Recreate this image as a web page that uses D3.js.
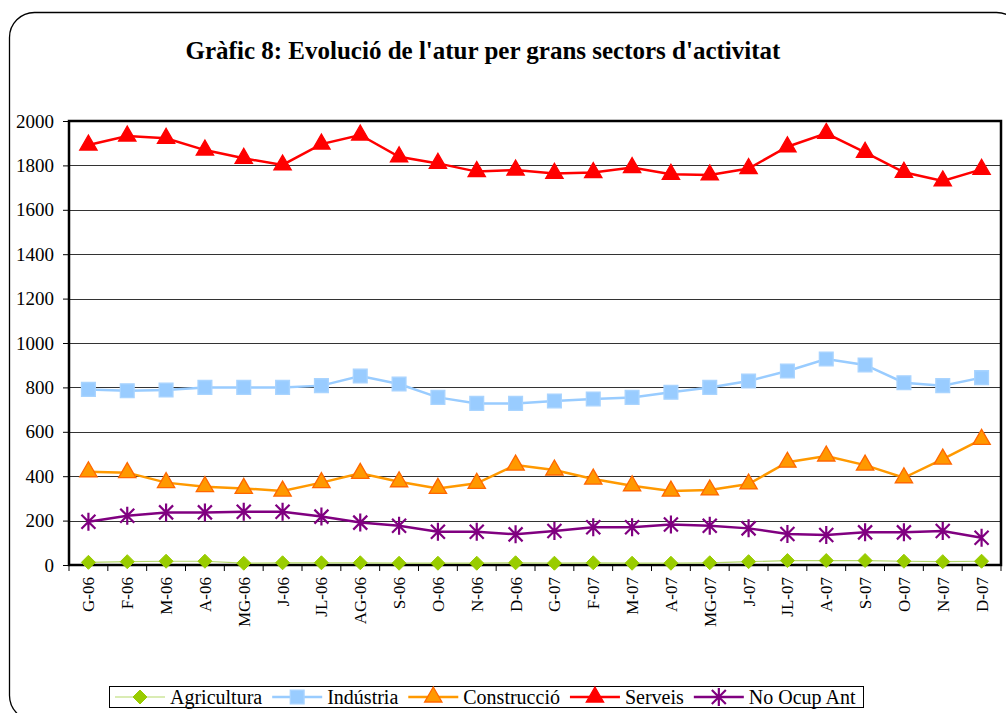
<!DOCTYPE html>
<html>
<head>
<meta charset="utf-8">
<script src="https://cdn.jsdelivr.net/npm/d3@7"></script>
<style>
  body { margin: 0; background: #fff; }
  svg text { font-family: "Liberation Serif", "Times New Roman", serif !important; }
</style>
</head>
<body>
<div id="chart-area"></div>
<script>
// data
const months = ["G-06","F-06","M-06","A-06","MG-06","J-06","JL-06","AG-06","S-06","O-06","N-06","D-06",
                "G-07","F-07","M-07","A-07","MG-07","J-07","JL-07","A-07","S-07","O-07","N-07","D-07"]
const agricultura = [12,15,17,17,8,10,10,10,8,8,8,10,8,10,8,8,10,15,20,20,20,17,15,17]
const industria = [791,785,788,800,800,800,808,851,815,755,728,728,739,748,755,778,800,829,874,928,901,821,808,844]
const construccio = [420,416,371,353,345,333,371,413,375,345,368,450,428,387,357,333,338,365,463,491,450,393,477,566]
const serveis = [1892,1932,1922,1869,1832,1802,1896,1937,1839,1809,1772,1779,1764,1768,1790,1760,1757,1786,1884,1944,1859,1769,1730,1782]
const noOcupAnt = [195,222,237,237,240,240,218,191,177,150,150,138,153,170,170,182,177,165,140,135,147,147,153,123]
const yTicks = [0,200,400,600,800,1000,1200,1400,1600,1800,2000]

const W = 1006, H = 713
const margin = {left: 69, right: 5, top: 121, bottom: 148}
const width = W - margin.left - margin.right
const height = H - margin.top - margin.bottom
const serif = "Liberation Serif, Times New Roman, serif"

const svg = d3.select("#chart-area").append("svg")
    .attr("width", W)
    .attr("height", H)

// outer rounded frame
svg.append("rect")
    .attr("x", 9.5).attr("y", 12.5)
    .attr("width", 1012).attr("height", 708)
    .attr("rx", 25)
    .attr("fill", "none")
    .attr("stroke", "#000")
    .attr("stroke-width", 1.3)

svg.append("text")
    .attr("x", 483)
    .attr("y", 59)
    .attr("text-anchor", "middle")
    .attr("font-family", serif)
    .attr("font-size", "25px")
    .attr("font-weight", "bold")
    .text("Gràfic 8: Evolució de l'atur per grans sectors d'activitat")

const g = svg.append("g")
    .attr("transform", `translate(${margin.left}, ${margin.top})`)

const x = d3.scaleBand()
    .domain(d3.range(months.length))
    .range([0, width])

const y = d3.scaleLinear()
    .domain([0, 2000])
    .range([height, 0])

// gridlines
g.append("g")
    .selectAll("line")
    .data(yTicks.slice(1, -1))
    .enter().append("line")
    .attr("x1", 0).attr("x2", width)
    .attr("y1", d => Math.round(y(d)) + 0.5)
    .attr("y2", d => Math.round(y(d)) + 0.5)
    .attr("stroke", "#333")
    .attr("stroke-width", 1)

// Y axis
const yAxisCall = d3.axisLeft(y)
    .tickValues(yTicks)
    .tickSize(6)
    .tickPadding(9)
    .tickFormat(d3.format("d"))

const yAxis = g.append("g").call(yAxisCall)
    .attr("font-family", serif)
yAxis.select(".domain").remove()
yAxis.selectAll("line").attr("stroke", "#000")
yAxis.selectAll("text")
    .attr("font-size", "19px")
    .attr("fill", "#000")
    .attr("font-family", serif)

// X axis ticks at band edges
const xAxis = g.append("g").attr("transform", `translate(0, ${height})`)
xAxis.selectAll("line")
    .data(d3.range(months.length + 1))
    .enter().append("line")
    .attr("x1", i => i * x.bandwidth())
    .attr("x2", i => i * x.bandwidth())
    .attr("y1", 0).attr("y2", 6)
    .attr("stroke", "#000")

xAxis.selectAll("text")
    .data(months)
    .enter().append("text")
    .attr("transform", (d, i) => `translate(${x(i) + x.bandwidth() / 2 + 6}, 12) rotate(-90)`)
    .attr("text-anchor", "end")
    .attr("font-family", serif)
    .attr("font-size", "17px")
    .text(d => d)

// plot border
g.append("rect")
    .attr("x", 0).attr("y", 0)
    .attr("width", width).attr("height", height)
    .attr("fill", "none")
    .attr("stroke", "#000")
    .attr("stroke-width", 2.5)

const cx = i => x(i) + x.bandwidth() / 2

const series = [
    {name: "Agricultura", values: agricultura, line: "#b5d96a", lw: 1.2, shape: "diamond", fill: "#99cc00", stroke: "#99cc00"},
    {name: "Indústria", values: industria, line: "#99ccff", lw: 2.5, shape: "square", fill: "#99ccff", stroke: "#a9d4ff"},
    {name: "Construcció", values: construccio, line: "#ff9900", lw: 2.5, shape: "triangle", fill: "#ff9900", stroke: "#ff6600"},
    {name: "Serveis", values: serveis, line: "#ff0000", lw: 2.5, shape: "triangle", fill: "#ff0000", stroke: "#ff0000"},
    {name: "No Ocup Ant", values: noOcupAnt, line: "#800080", lw: 2.5, shape: "star", fill: "none", stroke: "#800080"}
]

const line = d3.line()
    .x((d, i) => cx(i))
    .y(d => y(d))

function marker(sel, s) {
    if (s.shape === "star") {
        const r = 7
        sel.append("path")
            .attr("d", `M${-r},${-r}L${r},${r}M${-r},${r}L${r},${-r}M0,${-r - 2}L0,${r + 2}`)
            .attr("stroke", s.stroke)
            .attr("stroke-width", 2.2)
            .attr("fill", "none")
        return
    }
    if (s.shape === "diamond") {
        const r = 7
        sel.append("path")
            .attr("d", `M0,${-r}L${r},0L0,${r}L${-r},0Z`)
            .attr("fill", s.fill)
            .attr("stroke", s.stroke)
        return
    }
    const types = {square: d3.symbolSquare, triangle: d3.symbolTriangle}
    const sizes = {square: 190, triangle: 130}
    sel.append("path")
        .attr("d", d3.symbol().type(types[s.shape]).size(sizes[s.shape])())
        .attr("fill", s.fill)
        .attr("stroke", s.stroke)
        .attr("stroke-width", 1.3)
}

series.forEach(s => {
    const sg = g.append("g")
    sg.append("path")
        .datum(s.values)
        .attr("d", line)
        .attr("fill", "none")
        .attr("stroke", s.line)
        .attr("stroke-width", s.lw)
    s.values.forEach((v, i) => {
        const m = sg.append("g").attr("transform", `translate(${cx(i)}, ${y(v)})`)
        marker(m, s)
    })
})

// legend
const legend = svg.append("g")
const legBox = legend.append("rect")
    .attr("y", 686.5).attr("height", 21)
    .attr("fill", "#fff")
    .attr("stroke", "#000")
    .attr("stroke-width", 1)

let lx = 115
series.forEach(s => {
    const it = legend.append("g")
    it.append("line")
        .attr("x1", lx).attr("x2", lx + 50)
        .attr("y1", 697).attr("y2", 697)
        .attr("stroke", s.line)
        .attr("stroke-width", s.lw)
    marker(it.append("g").attr("transform", `translate(${lx + 25}, 697)`), s)
    const t = it.append("text")
        .attr("x", lx + 55)
        .attr("y", 704)
        .attr("font-family", serif)
        .attr("font-size", "20px")
        .text(s.name)
    lx += 55 + t.node().getComputedTextLength() + 10
})
legBox.attr("x", 109.5).attr("width", lx - 109.5 - 2)
</script>
</body>
</html>
